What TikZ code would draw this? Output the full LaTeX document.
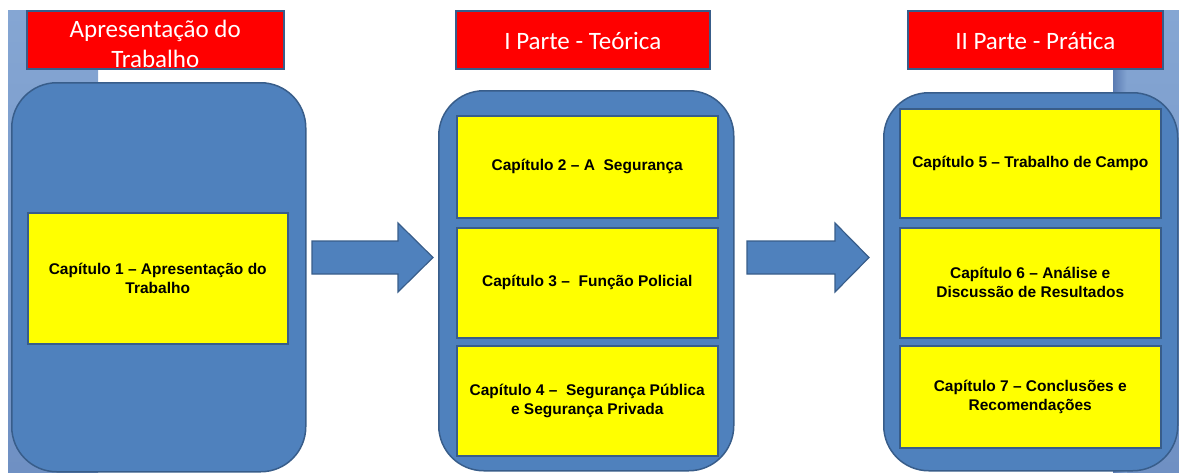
\documentclass[tikz,border=0pt]{standalone}
\usepackage{fontspec}
\setmainfont{Liberation Sans}
\newfontfamily\calib{Carlito}
\definecolor{boxblue}{HTML}{4F81BD}
\definecolor{edgeblue}{HTML}{385D8A}
\definecolor{bandtop}{HTML}{85A6D3}
\definecolor{bandbot}{HTML}{6F90C3}
\definecolor{shadowblue}{HTML}{5A7BB2}
\definecolor{chapyellow}{HTML}{FFFF00}
\definecolor{headred}{HTML}{FF0000}
\begin{document}
\begin{tikzpicture}[x=1pt,y=-1pt,
  panel/.style={draw=edgeblue, line width=1.5pt, fill=boxblue, rounded corners=45pt,
    anchor=north west, inner sep=0pt},
  header/.style={draw=edgeblue, line width=1.5pt, fill=headred, anchor=north west,
    minimum height=58pt, inner sep=0pt},
  headtext/.style={text=white, font=\calib\fontsize{25}{30}\selectfont,
    align=center, inner sep=0pt},
  chapter/.style={draw=edgeblue, line width=1.5pt, fill=chapyellow, anchor=north west,
    minimum width=261pt, font=\bfseries\fontsize{15.5}{19}\selectfont,
    align=center, inner sep=0pt},
  blockarrow/.style={fill=boxblue, draw=edgeblue, line width=1.2pt, line join=miter}]
\useasboundingbox (0,0) rectangle (1179,472);
% background bands
\fill[top color=bandtop, bottom color=bandbot] (8,10) rectangle (98,472);
\fill[top color=bandtop, bottom color=bandbot] (1113,10) rectangle (1179,472);
\fill[left color=shadowblue, right color=bandtop!90!bandbot] (1113,68) rectangle (1127,472);
% headers
\node[header, minimum width=257pt] (h1) at (26,10) {};
\node[header, minimum width=254pt] (h2) at (455,10) {};
\node[header, minimum width=255pt] (h3) at (907,10) {};
\node[headtext] (h1t) at ([yshift=-4pt]h1.center) {Apresentação do\\Trabalho};
\node[headtext] (h2t) at ([yshift=-1pt]h2.center) {I Parte - Teórica};
\node[headtext] (h3t) at ([yshift=-1pt]h3.center) {II Parte - Prática};
% panels
\node[panel, minimum width=294pt, minimum height=389pt] (p1) at (11,82) {};
\node[panel, minimum width=295pt, minimum height=380pt] (p2) at (438,90) {};
\node[panel, minimum width=294pt, minimum height=378pt] (p3) at (883,92) {};
% chapters
\node[chapter, minimum width=260pt, minimum height=131pt] (c1) at (27,212) {Capítulo 1 – Apresentação do\\Trabalho};
\node[chapter, minimum height=102pt] (c2) at (456,115) {Capítulo 2 – A\ \ Segurança};
\node[chapter, minimum height=110pt] (c3) at (456,227) {Capítulo 3 –\ \ Função Policial};
\node[chapter, minimum height=110pt] (c4) at (456,345) {Capítulo 4 –\ \ Segurança Pública\\e Segurança Privada};
\node[chapter, minimum height=109pt] (c5) at (899,108) {Capítulo 5 – Trabalho de Campo};
\node[chapter, minimum height=110pt] (c6) at (899,227) {Capítulo 6 – Análise e\\Discussão de Resultados};
\node[chapter, minimum height=102pt] (c7) at (899,345) {Capítulo 7 – Conclusões e\\Recomendações};
% block arrows
\draw[blockarrow] (312,241) -- (398,241) -- (398,223) -- (433,257.5) -- (398,292) -- (398,274) -- (312,274) -- cycle;
\draw[blockarrow] (747,241) -- (835,241) -- (835,223) -- (869,257.5) -- (835,292) -- (835,274) -- (747,274) -- cycle;
\end{tikzpicture}
\end{document}
